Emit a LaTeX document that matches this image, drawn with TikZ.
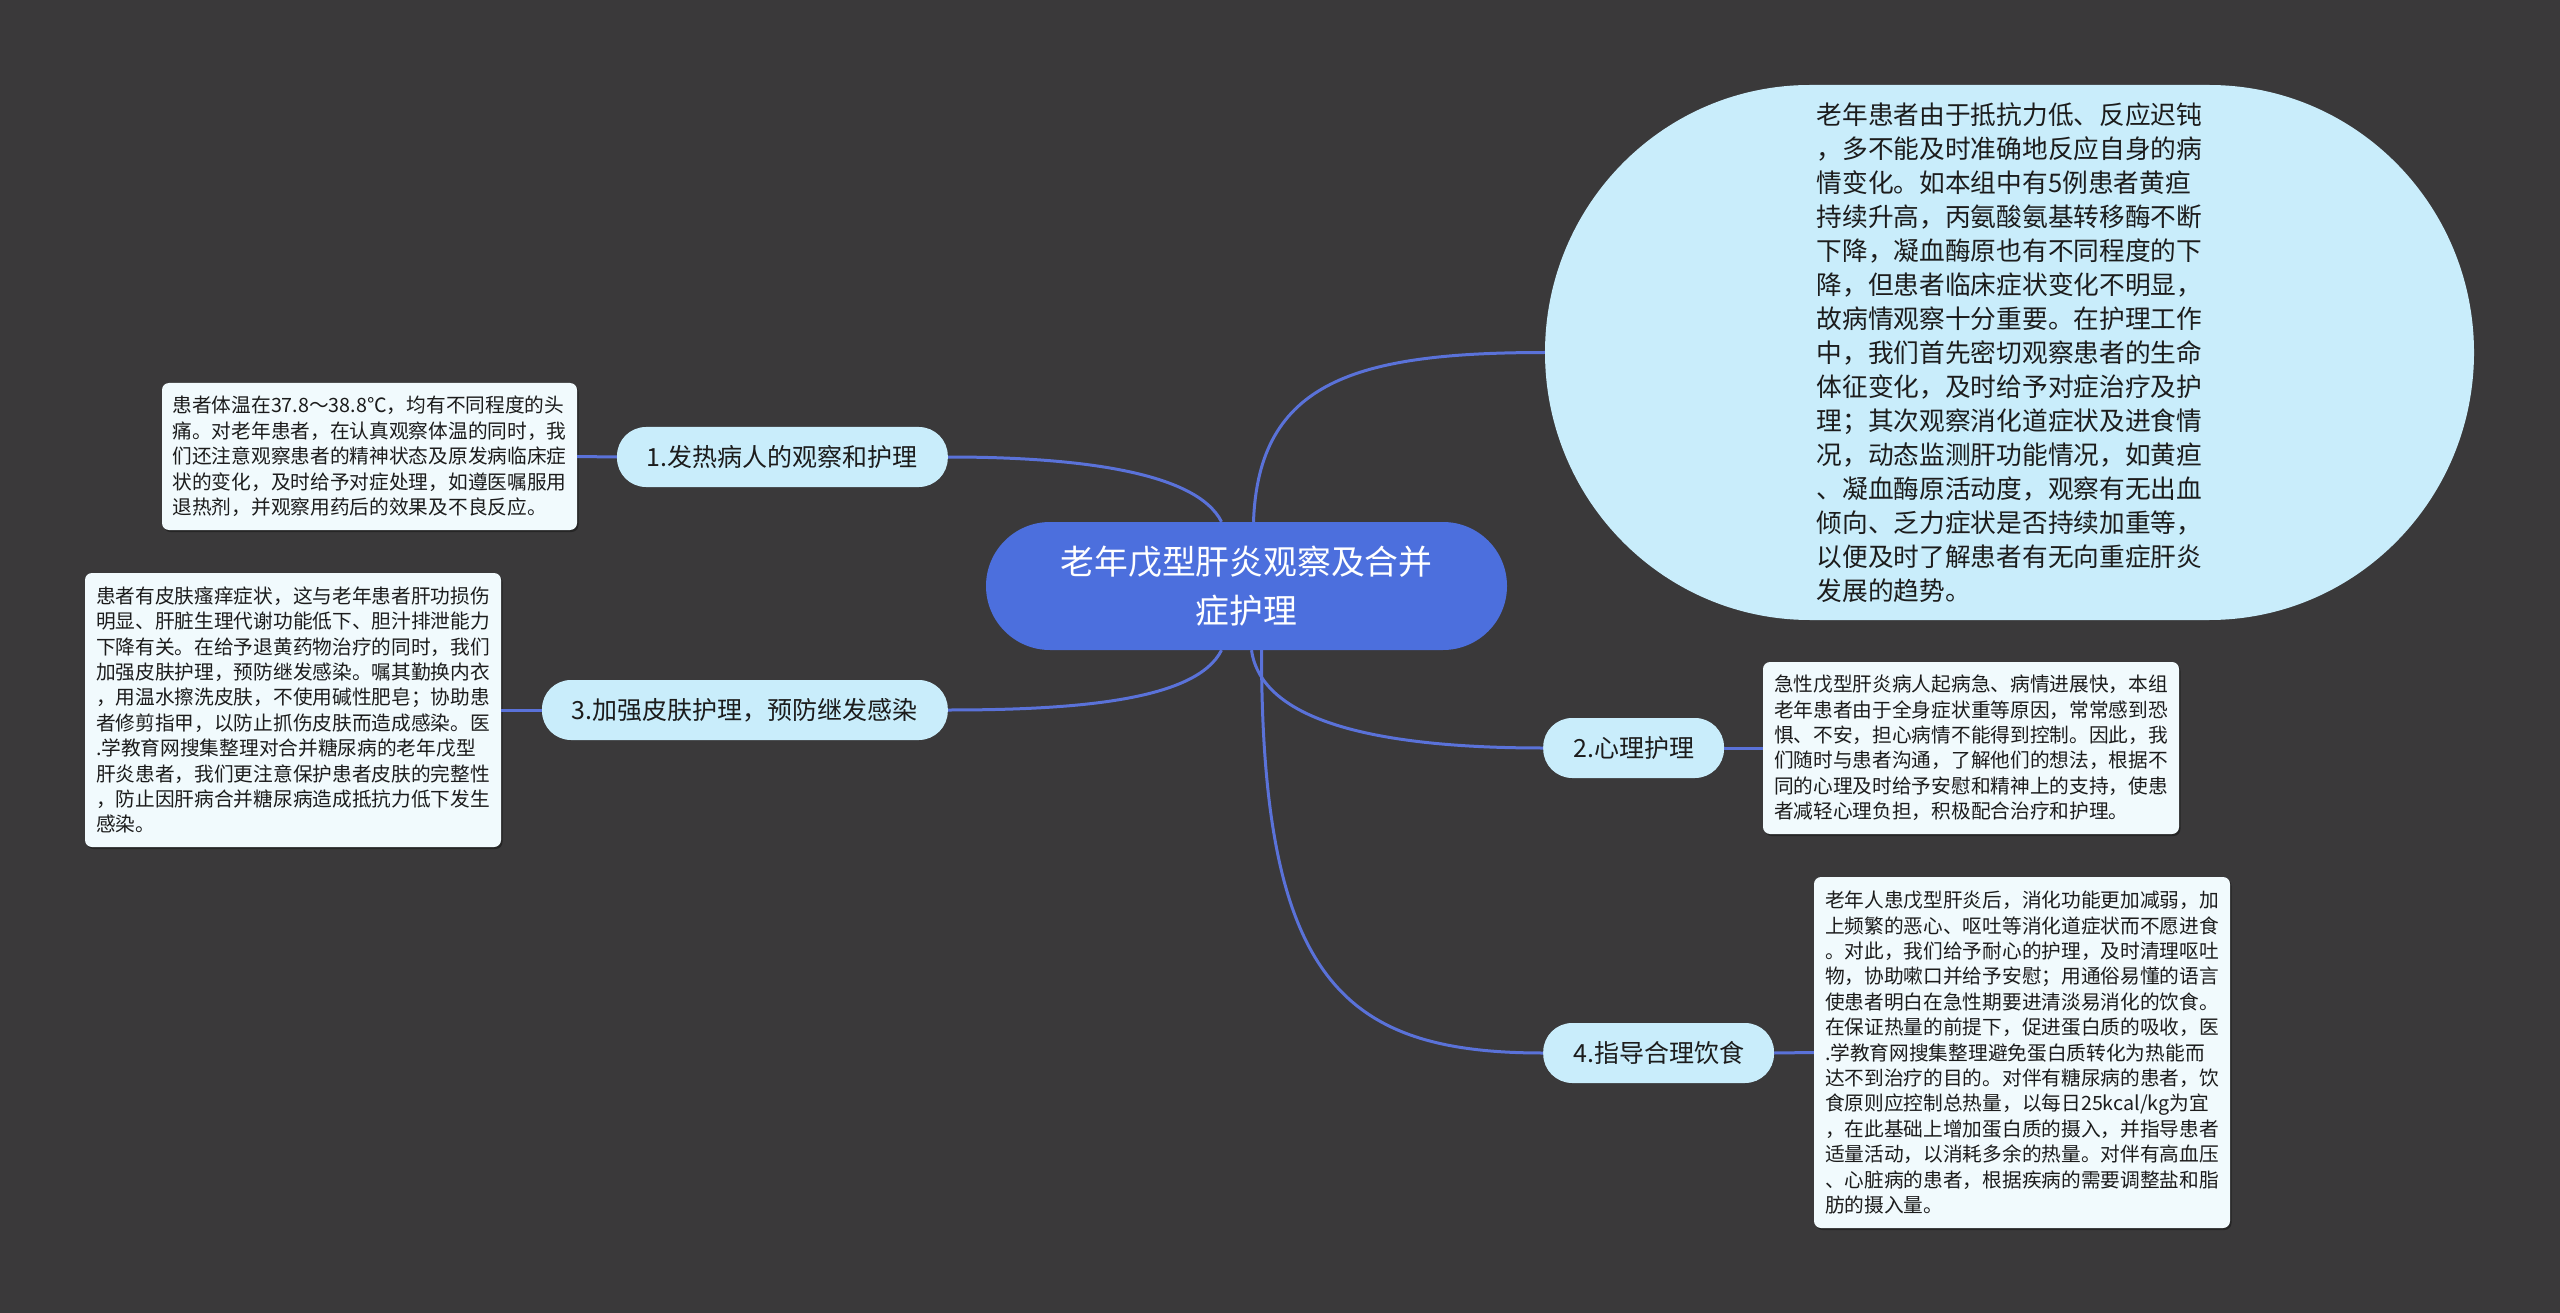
\documentclass[tikz,border=0pt]{standalone}
\usepackage{fontspec}
\usepackage{tikz}
\usetikzlibrary{shadows}
\newfontfamily\cjk{Noto Sans CJK SC}
\definecolor{bgc}{HTML}{3A393A}
\definecolor{rootc}{HTML}{4C6FDD}
\definecolor{branchc}{HTML}{C9EDFB}
\definecolor{notec}{HTML}{F1FAFD}
\definecolor{linkc}{HTML}{5A72D9}
\definecolor{inkc}{HTML}{1C1C1C}
\tikzset{
  rootnode/.style={fill=rootc, rounded corners=64pt, minimum width=521pt, minimum height=128pt, align=center, text=white, font=\cjk\fontsize{33.8pt}{48.6pt}\selectfont},
  branch/.style={fill=branchc, rounded corners=29pt, minimum height=60pt, inner xsep=30pt, text=inkc, font=\cjk\fontsize{25pt}{30pt}\selectfont},
  note/.style={fill=notec, rounded corners=7pt, inner sep=0pt, align=left, text=inkc, font=\cjk\fontsize{19.7pt}{25.4pt}\selectfont,
    drop shadow={shadow xshift=1.5pt, shadow yshift=-2pt, fill=black, opacity=.35}},
  bignote/.style={inner sep=0pt, align=left, text=inkc, minimum width=929pt, minimum height=535pt, font=\cjk\fontsize{25.7pt}{34pt}\selectfont},
  link/.style={draw=linkc, line width=3pt}
}
\begin{document}
\begin{tikzpicture}[x=1pt,y=-1pt]
  \fill[bgc] (0,0) rectangle (2560,1313);
  \useasboundingbox (0,0) rectangle (2560,1313);

  % flattened oval behind the long note
  \fill[branchc] (1810,85) -- (2209,85) arc[start angle=270, end angle=450, x radius=265, y radius=267.5]
    -- (1810,620) arc[start angle=90, end angle=270, x radius=265, y radius=267.5] -- cycle;

  \node[rootnode] (root) at (1246.5,586) {老年戊型肝炎观察及合并\\症护理};

  \node[branch, anchor=east] (n1) at (948,457) {1.发热病人的观察和护理};
  \node[branch, anchor=east] (n3) at (948,710) {3.加强皮肤护理，预防继发感染};
  \node[branch, anchor=west] (n2) at (1543,748) {2.心理护理};
  \node[branch, anchor=west] (n4) at (1543,1053) {4.指导合理饮食};

  \node[bignote] (big) at (2009.5,352.5) {老年患者由于抵抗力低、反应迟钝\\，多不能及时准确地反应自身的病\\情变化。如本组中有5例患者黄疸\\持续升高，丙氨酸氨基转移酶不断\\下降，凝血酶原也有不同程度的下\\降，但患者临床症状变化不明显，\\故病情观察十分重要。在护理工作\\中，我们首先密切观察患者的生命\\体征变化，及时给予对症治疗及护\\理；其次观察消化道症状及进食情\\况，动态监测肝功能情况，如黄疸\\、凝血酶原活动度，观察有无出血\\倾向、乏力症状是否持续加重等，\\以便及时了解患者有无向重症肝炎\\发展的趋势。};

  \node[note, minimum width=415pt, minimum height=147pt] (t1) at (369.5,456.5) {患者体温在37.8～38.8℃，均有不同程度的头\\痛。对老年患者，在认真观察体温的同时，我\\们还注意观察患者的精神状态及原发病临床症\\状的变化，及时给予对症处理，如遵医嘱服用\\退热剂，并观察用药后的效果及不良反应。};
  \node[note, minimum width=416pt, minimum height=274pt] (t3) at (293,710) {患者有皮肤瘙痒症状，这与老年患者肝功损伤\\明显、肝脏生理代谢功能低下、胆汁排泄能力\\下降有关。在给予退黄药物治疗的同时，我们\\加强皮肤护理，预防继发感染。嘱其勤换内衣\\，用温水擦洗皮肤，不使用碱性肥皂；协助患\\者修剪指甲，以防止抓伤皮肤而造成感染。医\\.学教育网搜集整理对合并糖尿病的老年戊型\\肝炎患者，我们更注意保护患者皮肤的完整性\\，防止因肝病合并糖尿病造成抵抗力低下发生\\感染。};
  \node[note, minimum width=416pt, minimum height=172pt] (t2) at (1971,748) {急性戊型肝炎病人起病急、病情进展快，本组\\老年患者由于全身症状重等原因，常常感到恐\\惧、不安，担心病情不能得到控制。因此，我\\们随时与患者沟通，了解他们的想法，根据不\\同的心理及时给予安慰和精神上的支持，使患\\者减轻心理负担，积极配合治疗和护理。};
  \node[note, minimum width=416pt, minimum height=351pt] (t4) at (2022,1052.5) {老年人患戊型肝炎后，消化功能更加减弱，加\\上频繁的恶心、呕吐等消化道症状而不愿进食\\。对此，我们给予耐心的护理，及时清理呕吐\\物，协助嗽口并给予安慰；用通俗易懂的语言\\使患者明白在急性期要进清淡易消化的饮食。\\在保证热量的前提下，促进蛋白质的吸收，医\\.学教育网搜集整理避免蛋白质转化为热能而\\达不到治疗的目的。对伴有糖尿病的患者，饮\\食原则应控制总热量，以每日25kcal/kg为宜\\，在此基础上增加蛋白质的摄入，并指导患者\\适量活动，以消耗多余的热量。对伴有高血压\\、心脏病的患者，根据疾病的需要调整盐和脂\\肪的摄入量。};

  % root to branches
  \draw[link] ([xshift=-25pt]root.north) .. controls +(-25,-50) and +(130,0) .. (n1.east);
  \draw[link] ([xshift=-25pt]root.south) .. controls +(-25,50) and +(130,0) .. (n3.east);
  \draw[link] ([xshift=7pt]root.north) .. controls +(5,-140) and +(-190,0) .. (big.west);
  \draw[link] ([xshift=5pt]root.south) .. controls +(10,70) and +(-170,0) .. (n2.west);
  \draw[link] ([xshift=15pt]root.south) .. controls +(0,330) and +(-200,0) .. (n4.west);

  % branches to notes
  \foreach \a/\b in {n1/t1,n3/t3} {\draw[link] (\a.west) -- (\b.east);}
  \foreach \a/\b in {n2/t2,n4/t4} {\draw[link] (\a.east) -- (\b.west);}
\end{tikzpicture}
\end{document}
